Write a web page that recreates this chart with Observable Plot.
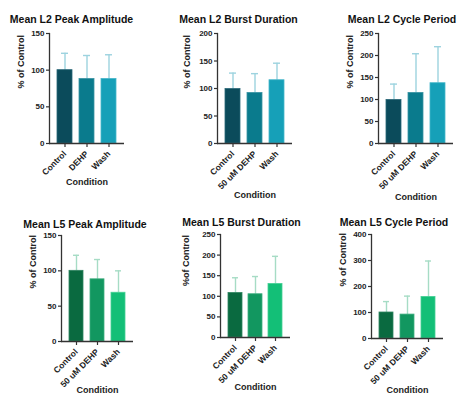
<!DOCTYPE html>
<html><head><meta charset="utf-8">
<script src="https://cdn.jsdelivr.net/npm/d3@7"></script>
<script src="https://cdn.jsdelivr.net/npm/@observablehq/plot@0.6"></script>
<style>
body{margin:0;background:#fff}
#chart{position:relative;width:459px;height:393px;overflow:hidden;background:#fff}
#chart svg{position:absolute;left:0;top:0}
</style></head><body><div id="chart"></div>
<script>
// ---- data ----
const titles = ["Mean L2 Peak Amplitude","Mean L2 Burst Duration","Mean L2 Cycle Period",
                "Mean L5 Peak Amplitude","Mean L5 Burst Duration","Mean L5 Cycle Period"];
const yLabels = ["% of Control","% of Control","% of Control","% of Control","%of Control","% of Control"];
const conditionsShort = ["Control","DEHP","Wash"];
const conditionsLong = ["Control","50 uM DEHP","Wash"];
const panelConditions = [conditionsShort, conditionsLong, conditionsLong, conditionsLong, conditionsLong, conditionsLong];
const means   = [[100,88,88],[99,92,115],[99,115,137],[100,88,69],[108,105,130],[100,92,160]];
const errTops = [[123,120,121],[128,127,146],[135,204,220],[122,116,100],[145,148,197],[142,163,298]];
const yMax  = [150,200,250,150,250,400];
const yStep = [50,50,50,50,50,100];
const xLabel = "Condition";

// ---- layout & style ----
const W = 459, H = 393;
const frames = [
  {left:49,  top:33,  right:124, bottom:143, titleX:71,    titleY:15,  yLabOff:28, condY:184},
  {left:217, top:33,  right:292, bottom:143, titleX:238,   titleY:15,  yLabOff:30, condY:197},
  {left:378, top:33,  right:453, bottom:143, titleX:401.5, titleY:15,  yLabOff:28, condY:199},
  {left:61,  top:235, right:133, bottom:341, titleX:84.5,  titleY:220, yLabOff:28, condY:392},
  {left:220, top:234, right:290, bottom:337, titleX:241,   titleY:218, yLabOff:34, condY:389},
  {left:371, top:234, right:443, bottom:338, titleX:393.5, titleY:218, yLabOff:28, condY:392}
];
const palL2 = {bars:["#0b4b5b","#0a7b8d","#16a0b8"], edge:["#2a6878","#3a94a4","#45b6ca"], err:"#9dd3df"};
const palL5 = {bars:["#0a6a40","#129760","#13bf77"], edge:["#2f8460","#40ae80","#45d094"], err:"#a6dcc5"};
const palettes = [palL2, palL2, palL2, palL5, palL5, palL5];
const font = "'Liberation Sans', Arial, Helvetica, sans-serif";
const axisColor = "#333";

const root = document.getElementById("chart");
for (let p = 0; p < 6; p++) {
  const f = frames[p], pal = palettes[p], cats = panelConditions[p];
  const rows = cats.map((c, i) => ({cat: c, mean: means[p][i], err: errTops[p][i], i}));
  const cx = (f.left + f.right) / 2;
  const chart = Plot.plot({
    width: W, height: H,
    marginLeft: f.left, marginTop: f.top, marginRight: W - f.right, marginBottom: H - f.bottom,
    style: {background: "transparent", fontFamily: font, color: "#222", overflow: "visible"},
    x: {type: "band", domain: cats, paddingInner: 0.32, paddingOuter: 0.36, axis: null},
    y: {domain: [0, yMax[p]], axis: null},
    marks: [
      Plot.ruleX(rows, {x: "cat", y1: "mean", y2: "err", stroke: pal.err, strokeWidth: 1.4}),
      Plot.tickY(rows, {x: "cat", y: "err", stroke: pal.err, strokeWidth: 1.4, insetLeft: 4, insetRight: 4}),
      Plot.barY(rows, {x: "cat", y: "mean", fill: d => pal.bars[d.i], stroke: d => pal.edge[d.i], strokeWidth: 0.8}),
      Plot.axisY({ticks: d3.range(0, yMax[p] + 1, yStep[p]), tickSize: 3, tickPadding: 2, fontSize: 8, fontWeight: "bold", stroke: axisColor, strokeWidth: 1.2, label: null}),
      Plot.axisX({tickSize: 4, tickPadding: 5, tickRotate: -45, fontSize: 8.5, fontWeight: "bold", stroke: axisColor, strokeWidth: 1.2, label: null}),
      Plot.frame({anchor: "left", stroke: axisColor, strokeWidth: 1.3}),
      Plot.ruleY([0], {stroke: axisColor, strokeWidth: 1.3}),
      Plot.text([titles[p]], {text: d => d, frameAnchor: "top", dx: f.titleX - cx, dy: f.titleY - f.top, fontSize: 10.5, fontWeight: "bold", fill: "#111"}),
      Plot.text([yLabels[p]], {text: d => d, frameAnchor: "left", dx: -f.yLabOff, rotate: -90, fontSize: 9, fontWeight: "bold", fill: "#222"}),
      Plot.text([xLabel], {text: d => d, frameAnchor: "bottom", dy: f.condY - f.bottom, fontSize: 9, fontWeight: "bold", fill: "#222"})
    ]
  });
  root.appendChild(chart);
}
</script></body></html>
